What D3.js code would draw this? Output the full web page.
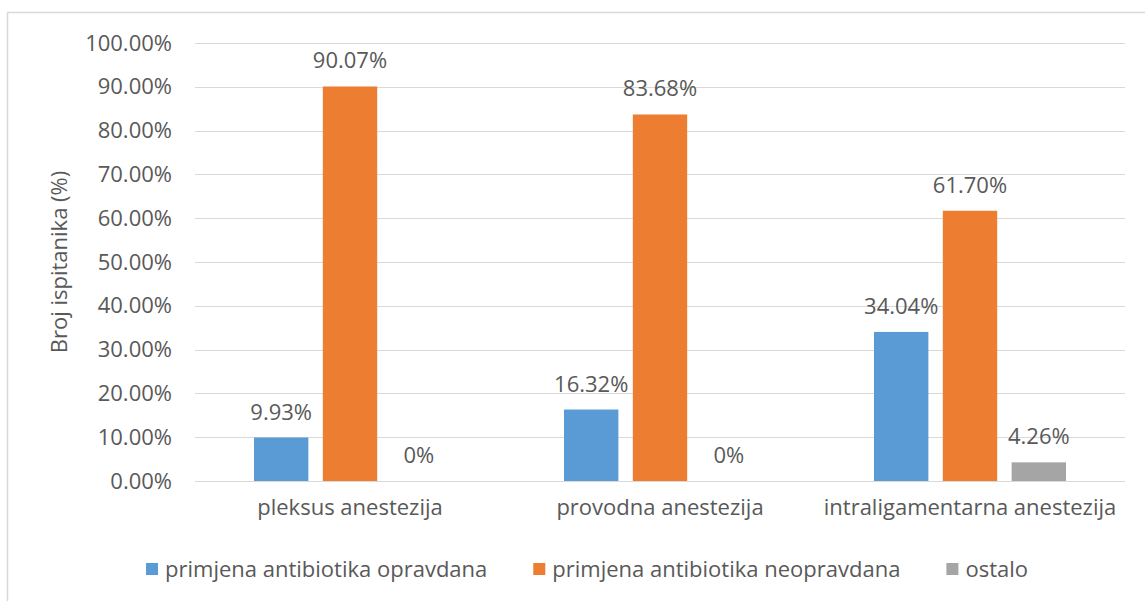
<!DOCTYPE html>
<html>
<head>
<meta charset="utf-8">
<script src="https://cdn.jsdelivr.net/npm/d3@7"></script>
<style>
  body { margin: 0; background: #fff; }
  svg text { font-family: "Open Sans", sans-serif; fill: #595959; }
</style>
</head>
<body>
<div id="chart"></div>
<script>
var width = 1145, height = 601;

// data
var categories = ["pleksus anestezija", "provodna anestezija", "intraligamentarna anestezija"];
var seriesNames = ["primjena antibiotika opravdana", "primjena antibiotika neopravdana", "ostalo"];
var opravdana = [9.93, 16.32, 34.04];
var neopravdana = [90.07, 83.68, 61.70];
var ostalo = [0, 0, 4.26];
var yTicks = [0, 10, 20, 30, 40, 50, 60, 70, 80, 90, 100];
var colors = ["#5B9BD5", "#ED7D31", "#A5A5A5"];

var seriesValues = [opravdana, neopravdana, ostalo];
var fontSize = "22px";

var svg = d3.select("#chart")
            .append("svg")
            .attr("width", width)
            .attr("height", height);

// chart frame
svg.append("rect")
   .attr("x", 7.5).attr("y", 12.5)
   .attr("width", width + 10).attr("height", height)
   .attr("fill", "#fff")
   .attr("stroke", "#D9D9D9")
   .attr("stroke-width", 1.5);

var x0 = d3.scaleBand()
           .domain(categories)
           .range([195, 1125]);

var x1 = d3.scaleBand()
           .domain(d3.range(seriesNames.length))
           .range([0, 192])
           .paddingInner(0.21);

var y = d3.scaleLinear()
          .domain([0, 100])
          .range([481, 43]);

// gridlines
svg.append("g")
   .selectAll("line")
   .data(yTicks)
   .enter()
   .append("line")
   .attr("x1", 195).attr("x2", 1125)
   .attr("y1", function(d) { return Math.round(y(d)) + 0.5; })
   .attr("y2", function(d) { return Math.round(y(d)) + 0.5; })
   .attr("stroke", "#D9D9D9")
   .attr("stroke-width", 1);

// y axis labels
var yAxis = d3.axisLeft(y)
              .tickValues(yTicks)
              .tickSize(0)
              .tickPadding(0)
              .tickFormat(function(d) { return d.toFixed(2) + "%"; });

var gy = svg.append("g")
            .attr("transform", "translate(172,0)")
            .call(yAxis);
gy.select(".domain").remove();
gy.selectAll("text")
  .style("font-size", fontSize)
  .style("font-family", "'Open Sans', sans-serif")
  .attr("fill", "#595959");

// y axis title
svg.append("text")
   .attr("transform", "translate(67,262) rotate(-90)")
   .attr("text-anchor", "middle")
   .style("font-size", fontSize)
   .text("Broj ispitanika (%)");

// x axis labels
var xAxis = d3.axisBottom(x0).tickSize(0).tickPadding(0);
var gx = svg.append("g")
            .attr("transform", "translate(0,499)")
            .call(xAxis);
gx.select(".domain").remove();
gx.selectAll("text")
  .style("font-size", fontSize)
  .style("font-family", "'Open Sans', sans-serif")
  .attr("fill", "#595959");

// bars
var groups = svg.selectAll(".group")
                .data(categories)
                .enter()
                .append("g")
                .attr("class", "group")
                .attr("transform", function(d) {
                    return "translate(" + (x0(d) + (x0.bandwidth() - 192) / 2) + ",0)";
                });

groups.selectAll("rect")
      .data(function(d, i) {
          return seriesValues.map(function(s, j) { return { s: j, v: s[i] }; });
      })
      .enter()
      .append("rect")
      .attr("x", function(d) { return x1(d.s); })
      .attr("width", x1.bandwidth())
      .attr("y", function(d) { return y(d.v); })
      .attr("height", function(d) { return y(0) - y(d.v); })
      .attr("fill", function(d) { return colors[d.s]; });

groups.selectAll(".lbl")
      .data(function(d, i) {
          return seriesValues.map(function(s, j) { return { s: j, v: s[i] }; });
      })
      .enter()
      .append("text")
      .attr("class", "lbl")
      .attr("x", function(d) { return x1(d.s) + x1.bandwidth() / 2; })
      .attr("y", function(d) { return y(d.v) - 18; })
      .attr("text-anchor", "middle")
      .style("font-size", fontSize)
      .text(function(d) { return d.v === 0 ? "0%" : d.v.toFixed(2) + "%"; });

// legend
var legend = svg.append("g");
var items = legend.selectAll("g")
                  .data(seriesNames)
                  .enter()
                  .append("g");
items.append("rect")
     .attr("width", 12).attr("height", 12)
     .attr("y", 563)
     .attr("fill", function(d, i) { return colors[i]; });
items.append("text")
     .attr("x", 19)
     .attr("y", 577)
     .style("font-size", fontSize)
     .text(function(d) { return d; });

var xPos = 0, gap = 46;
items.each(function() {
    var w = d3.select(this).select("text").node().getComputedTextLength();
    d3.select(this).attr("transform", "translate(" + xPos + ",0)");
    xPos += 19 + w + gap;
});
var total = xPos - gap;
legend.attr("transform", "translate(" + (587 - total / 2) + ",0)");
</script>
</body>
</html>
